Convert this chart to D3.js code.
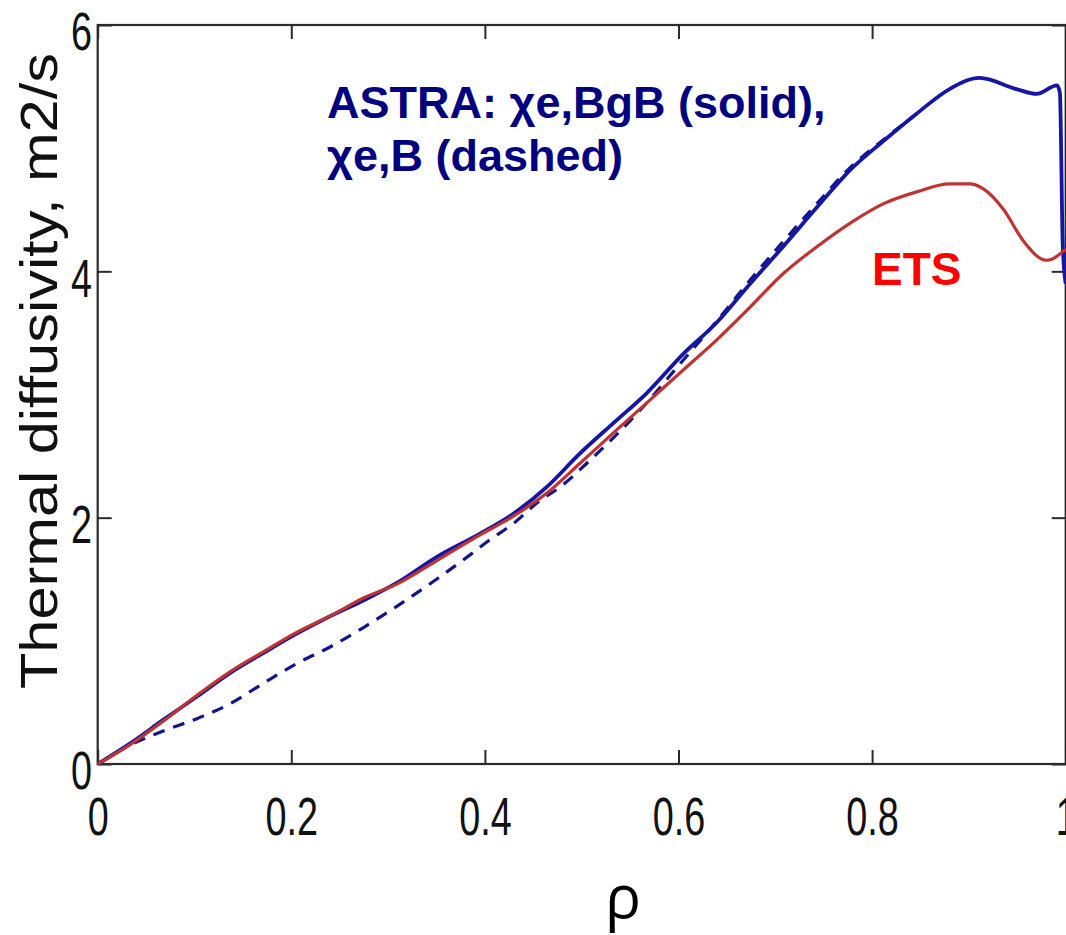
<!DOCTYPE html>
<html>
<head>
<meta charset="utf-8">
<script src="https://cdn.jsdelivr.net/npm/d3@7"></script>
<style>
	body { margin: 0; background: white; }
	svg { display: block; }
</style>
</head>
<body>
<svg id="svgChart" width="1066" height="935"></svg>
<script>
// values (rho, chi in m2/s)
const rhoBgB = [0, 0.034, 0.068, 0.103, 0.137, 0.171, 0.206, 0.24, 0.275, 0.309, 0.35, 0.395, 0.429, 0.464, 0.498, 0.533, 0.567, 0.605, 0.639, 0.674, 0.708, 0.743, 0.777, 0.812, 0.846, 0.88, 0.911, 0.949, 0.97, 0.991, 0.994, 0.997, 1.0];
const chiBgB = [0, 0.17, 0.36, 0.55, 0.74, 0.9, 1.06, 1.2, 1.33, 1.47, 1.68, 1.87, 2.03, 2.25, 2.52, 2.77, 3.01, 3.33, 3.58, 3.9, 4.2, 4.52, 4.82, 5.06, 5.28, 5.48, 5.57, 5.48, 5.44, 5.51, 5.45, 4.2, 3.9];

const rhoB = [0, 0.03, 0.065, 0.103, 0.137, 0.171, 0.206, 0.24, 0.275, 0.309, 0.35, 0.385, 0.405, 0.429, 0.457, 0.478, 0.505, 0.56, 0.605, 0.64, 0.674, 0.708, 0.743, 0.777, 0.812, 0.846];
const chiB = [0, 0.14, 0.26, 0.37, 0.49, 0.655, 0.817, 0.95, 1.11, 1.28, 1.5, 1.7, 1.82, 1.95, 2.14, 2.25, 2.44, 2.87, 3.28, 3.6, 3.93, 4.24, 4.55, 4.84, 5.07, 5.28];

const rhoEts = [0, 0.034, 0.068, 0.103, 0.137, 0.171, 0.206, 0.24, 0.275, 0.309, 0.35, 0.395, 0.429, 0.464, 0.498, 0.533, 0.567, 0.605, 0.639, 0.674, 0.708, 0.743, 0.777, 0.812, 0.846, 0.88, 0.901, 0.915, 0.936, 0.956, 0.98, 1.0];
const chiEts = [0, 0.16, 0.35, 0.56, 0.75, 0.91, 1.07, 1.2, 1.35, 1.46, 1.65, 1.86, 2.01, 2.2, 2.44, 2.69, 2.93, 3.2, 3.44, 3.71, 3.98, 4.2, 4.39, 4.55, 4.645, 4.71, 4.71, 4.67, 4.5, 4.25, 4.09, 4.18];

const xTicks = [0, 0.2, 0.4, 0.6, 0.8, 1];
const yTicks = [0, 2, 4, 6];

const ctx = { left: 97.7, right: 1065.7, top: 25, bottom: 764 };

let svg = d3.select("#svgChart");

// scales
let xscale = d3.scaleLinear().domain([0, 1]).range([ctx.left, ctx.right]);
let yscale = d3.scaleLinear().domain([0, 6]).range([ctx.bottom, ctx.top]);

// box around the plot
svg.append("rect")
	.attr("x", ctx.left)
	.attr("y", ctx.top)
	.attr("width", ctx.right - ctx.left)
	.attr("height", ctx.bottom - ctx.top)
	.attr("fill", "none")
	.attr("stroke", "#2b2b2b")
	.attr("stroke-width", 2.2);

// axes, ticks pointing inwards like matlab
let xAxis = svg.append("g")
	.attr("class", "x-axis")
	.attr("transform", "translate(0," + ctx.bottom + ")")
	.call(d3.axisBottom(xscale).tickValues(xTicks).tickSize(-14).tickSizeOuter(0).tickPadding(33)
		.tickFormat(d3.format("")));
let yAxis = svg.append("g")
	.attr("class", "y-axis")
	.attr("transform", "translate(" + ctx.left + ",0)")
	.call(d3.axisLeft(yscale).tickValues(yTicks).tickSize(-14).tickSizeOuter(0).tickPadding(8)
		.tickFormat(d3.format("d")));
svg.append("g")
	.attr("class", "top-axis")
	.attr("transform", "translate(0," + ctx.top + ")")
	.call(d3.axisTop(xscale).tickValues(xTicks).tickSize(-14).tickSizeOuter(0).tickFormat(""));
svg.append("g")
	.attr("class", "right-axis")
	.attr("transform", "translate(" + ctx.right + ",0)")
	.call(d3.axisRight(yscale).tickValues(yTicks).tickSize(-14).tickSizeOuter(0).tickFormat(""));

svg.selectAll(".domain").remove();
svg.selectAll(".tick line").attr("stroke", "#2b2b2b").attr("stroke-width", 2);

// narrow looking tick labels
svg.selectAll(".x-axis text, .y-axis text")
	.attr("fill", "#111")
	.style("font-family", "Liberation Sans, Arial, sans-serif")
	.style("font-size", "54px")
	.attr("transform", "scale(0.7,1)");
yAxis.selectAll("text").attr("dy", "0.46em");

// curves
let line = d3.line()
	.x((d) => xscale(d[0]))
	.y((d) => yscale(d[1]))
	.curve(d3.curveMonotoneX);

svg.append("path")
	.datum(d3.zip(rhoB, chiB))
	.attr("d", line)
	.attr("fill", "none")
	.attr("stroke", "#14148c")
	.attr("stroke-width", 3.2)
	.attr("stroke-dasharray", "12,9");

svg.append("path")
	.datum(d3.zip(rhoBgB, chiBgB))
	.attr("d", line)
	.attr("fill", "none")
	.attr("stroke", "#1515a8")
	.attr("stroke-width", 3.8);

svg.append("path")
	.datum(d3.zip(rhoEts, chiEts))
	.attr("d", line)
	.attr("fill", "none")
	.attr("stroke", "#bf3333")
	.attr("stroke-width", 3.2);

// annotations
let note = svg.append("text")
	.attr("x", 327)
	.attr("y", 118)
	.attr("fill", "#000080")
	.style("font-family", "Liberation Sans, Arial, sans-serif")
	.style("font-weight", "bold")
	.style("font-size", "45px");
note.append("tspan").attr("x", 327).text("ASTRA: χe,BgB (solid),");
note.append("tspan").attr("x", 327).attr("dy", 53).text("χe,B (dashed)");

svg.append("text")
	.attr("x", 872)
	.attr("y", 285)
	.attr("fill", "#ff0000")
	.style("font-family", "Liberation Sans, Arial, sans-serif")
	.style("font-weight", "bold")
	.style("font-size", "46px")
	.text("ETS");

// axis labels
svg.append("text")
	.attr("transform", "translate(57,371) rotate(-90)")
	.attr("text-anchor", "middle")
	.attr("textLength", 636)
	.attr("lengthAdjust", "spacingAndGlyphs")
	.attr("fill", "#111")
	.style("font-family", "Liberation Sans, Arial, sans-serif")
	.style("font-size", "52px")
	.text("Thermal diffusivity, m2/s");

svg.append("text")
	.attr("x", 623)
	.attr("y", 918)
	.attr("text-anchor", "middle")
	.attr("fill", "#000")
	.style("font-family", "Open Sans, sans-serif")
	.style("font-size", "60px")
	.text("ρ");
</script>
</body>
</html>
